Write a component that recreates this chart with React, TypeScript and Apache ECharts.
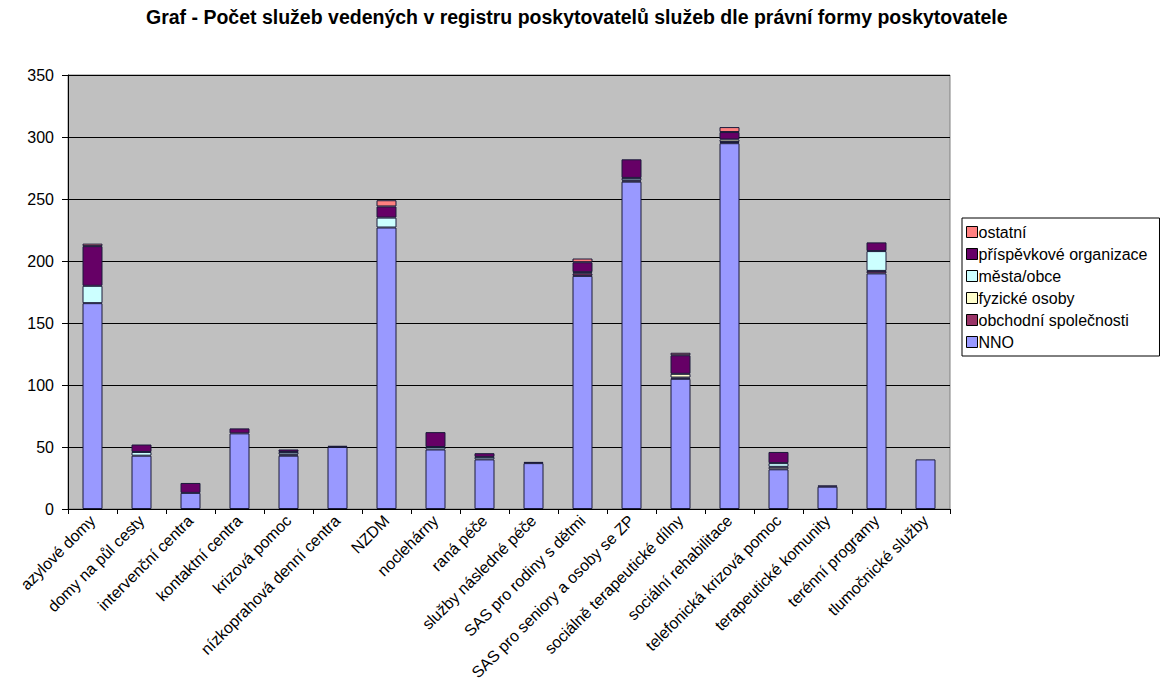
import React, { useEffect, useRef } from "react";
import * as echarts from "echarts";

const categories = [
  "azylové domy",
  "domy na půl cesty",
  "intervenční centra",
  "kontaktní centra",
  "krizová pomoc",
  "nízkoprahová denní centra",
  "NZDM",
  "noclehárny",
  "raná péče",
  "služby následné péče",
  "SAS pro rodiny s dětmi",
  "SAS pro seniory a osoby se ZP",
  "sociálně terapeutické dílny",
  "sociální rehabilitace",
  "telefonická krizová pomoc",
  "terapeutické komunity",
  "terénní programy",
  "tlumočnické služby",
];

const nno = [166, 43, 13, 61, 43, 50, 227, 48, 40, 37, 188, 264, 105, 295, 32, 18, 190, 40];
const obchodni = [0, 0, 0, 0, 0, 0, 0, 0, 0, 0, 2, 1, 1, 1, 0, 0, 2, 0];
const fyzicke = [0, 0, 0, 0, 1, 0, 0, 0, 0, 0, 1, 0, 3, 2, 2, 0, 0, 0];
const mesta = [14, 3, 0, 0, 2, 0, 8, 2, 2, 0, 0, 2, 0, 0, 3, 0, 16, 0];
const prispevkove = [32, 6, 8, 4, 2, 1, 9, 12, 3, 1, 8, 15, 15, 6, 9, 1, 7, 0];
const ostatni = [2, 0, 0, 0, 0, 0, 5, 0, 0, 0, 3, 0, 2, 4, 0, 0, 0, 0];

const yTicks = [0, 50, 100, 150, 200, 250, 300, 350];

const seriesDefs = [
  { name: "NNO", data: nno, color: "#9999FF" },
  { name: "obchodní společnosti", data: obchodni, color: "#993366" },
  { name: "fyzické osoby", data: fyzicke, color: "#FFFFCC" },
  { name: "města/obce", data: mesta, color: "#CCFFFF" },
  { name: "příspěvkové organizace", data: prispevkove, color: "#660066" },
  { name: "ostatní", data: ostatni, color: "#FF8080" },
];

export default function App() {
  const ref = useRef<HTMLDivElement>(null);
  useEffect(() => {
    document.body.style.margin = "0";
    if (!ref.current) return;
    const chart = echarts.init(ref.current, undefined, { renderer: "svg" });
    const font = "Liberation Sans, Arial, sans-serif";
    chart.setOption({
      animation: false,
      backgroundColor: "#ffffff",
      textStyle: { fontFamily: font },
      title: {
        text: "Graf - Počet služeb vedených v registru poskytovatelů služeb dle právní formy poskytovatele",
        left: 146,
        top: 7,
        padding: 0,
        textStyle: { fontFamily: font, fontSize: 19.5, fontWeight: "bold", color: "#000" },
      },
      legend: {
        orient: "vertical",
        left: 962,
        top: 218,
        data: seriesDefs.map((s) => s.name).reverse(),
        borderColor: "#000",
        borderWidth: 1,
        padding: [6, 12, 6, 4],
        itemGap: 6,
        itemWidth: 11,
        itemHeight: 11,
        icon: "rect",
        itemStyle: { borderColor: "#000", borderWidth: 1 },
        textStyle: { fontFamily: font, fontSize: 16, color: "#000", padding: [0, 0, 0, -4] },
      },
      grid: {
        left: 68,
        right: 221,
        top: 75,
        bottom: 189,
        show: true,
        backgroundColor: "#C0C0C0",
        borderColor: "#808080",
        borderWidth: 1,
      },
      xAxis: {
        type: "category",
        data: categories,
        axisLine: { lineStyle: { color: "#000", width: 1 } },
        axisTick: { show: true, length: 5, lineStyle: { color: "#000" } },
        axisLabel: {
          rotate: 45,
          interval: 0,
          fontFamily: font,
          fontSize: 16,
          color: "#000",
          margin: 9,
        },
      },
      yAxis: {
        type: "value",
        min: yTicks[0],
        max: yTicks[yTicks.length - 1],
        interval: 50,
        axisLine: { show: true, lineStyle: { color: "#000", width: 1 } },
        axisTick: { show: true, length: 6, lineStyle: { color: "#000" } },
        axisLabel: { fontFamily: font, fontSize: 16, color: "#000", margin: 14 },
        splitLine: { show: true, lineStyle: { color: "#000", width: 1 } },
      },
      series: seriesDefs.map((s) => ({
        name: s.name,
        type: "bar",
        stack: "total",
        barWidth: 20,
        data: s.data.map((v) => (v === 0 ? null : v)),
        itemStyle: { color: s.color, borderColor: "#1a1a3a", borderWidth: 1 },
      })),
    });
    return () => chart.dispose();
  }, []);
  return <div ref={ref} style={{ width: 1171, height: 698 }} />;
}
